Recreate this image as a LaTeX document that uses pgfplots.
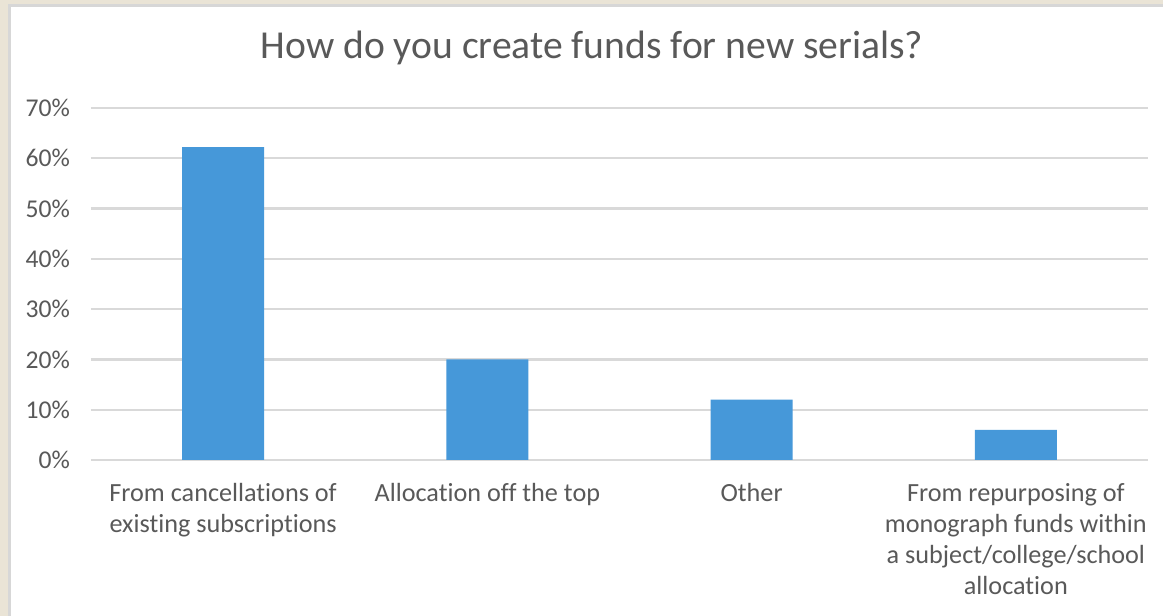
\documentclass[border=0pt]{standalone}
\usepackage{pgfplots}
\pgfplotsset{compat=1.18}
\usepackage{fontspec}
\setmainfont{Carlito}[Ligatures={NoCommon}]
\definecolor{barblue}{RGB}{70,152,217}
\definecolor{gridgray}{RGB}{217,217,217}
\definecolor{txtgray}{RGB}{89,89,89}
\definecolor{beige}{RGB}{234,228,214}
\definecolor{framegray}{RGB}{215,215,215}
\begin{document}
\begin{tikzpicture}[x=1pt,y=1pt]
  % page background and chart frame
  \fill[beige] (0,0) rectangle (581.5,308);
  \fill[framegray] (4,0) rectangle (581.5,306);
  \fill[white] (5.5,0) rectangle (581.5,304.5);
  \useasboundingbox (0,0) rectangle (581.5,308);
  \begin{axis}[
      at={(45.5pt,78pt)}, anchor=south west,
      scale only axis,
      width=528.5pt, height=176pt,
      /pgf/number format/assume math mode=true,
      ybar, bar width=41pt,
      xmin=-0.5, xmax=3.5,
      ymin=0, ymax=70,
      ytick={0,10,...,70},
      yticklabel={\pgfmathprintnumber{\tick}\%},
      xtick=data,
      xticklabels={{From cancellations of\\existing subscriptions},
                   {Allocation off the top},
                   {Other},
                   {From repurposing of\\monograph funds within\\a subject/college/school\\allocation}},
      axis line style={draw=none},
      tick style={draw=none},
      ymajorgrids,
      major grid style={draw=gridgray, line width=1.2pt},
      yticklabel style={font=\fontsize{12.8}{15.4}\selectfont, text=txtgray, xshift=-7pt},
      xticklabel style={font=\fontsize{13.1}{15.5}\selectfont, text=txtgray, align=center, yshift=-4pt},
    ]
    \addplot[draw=none, fill=barblue] coordinates {
      (0,62.2) (1,20) (2,12) (3,6)
    };
  \end{axis}
  \node[text=txtgray, font=\fontsize{19.8}{24}\selectfont] at (296,284) {How do you create funds for new serials?};
\end{tikzpicture}
\end{document}
